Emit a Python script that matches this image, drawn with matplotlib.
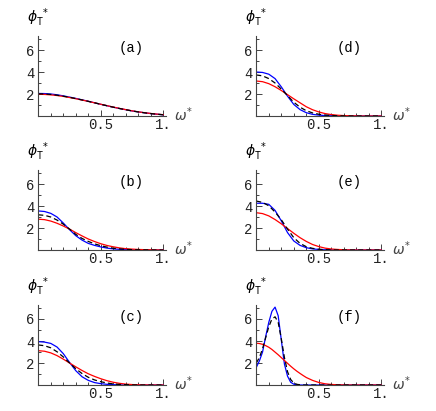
import numpy as np
import matplotlib
matplotlib.use("Agg")
import matplotlib.pyplot as plt
from matplotlib.ticker import MultipleLocator, FixedLocator

plt.rcParams['font.family'] = ['Liberation Mono', 'DejaVu Sans Mono']

# omega* grid used for panels (a)-(e)
x = [0.0, 0.05, 0.1, 0.15, 0.2, 0.25, 0.3, 0.35, 0.4, 0.45, 0.5,
     0.55, 0.6, 0.65, 0.7, 0.75, 0.8, 0.85, 0.9, 0.95, 1.0]

a_blue = [2.05, 2.04, 2.0, 1.93, 1.83, 1.72, 1.6, 1.47, 1.34, 1.2, 1.06,
          0.93, 0.8, 0.68, 0.57, 0.46, 0.37, 0.29, 0.22, 0.16, 0.11]
a_red = [1.97, 1.96, 1.92, 1.86, 1.78, 1.68, 1.57, 1.45, 1.33, 1.2, 1.07,
         0.94, 0.81, 0.69, 0.58, 0.47, 0.38, 0.3, 0.23, 0.17, 0.12]
a_black = [2.01, 2.0, 1.96, 1.89, 1.8, 1.7, 1.58, 1.46, 1.33, 1.2, 1.06,
           0.93, 0.8, 0.68, 0.57, 0.46, 0.37, 0.29, 0.22, 0.16, 0.11]

b_blue = [3.55, 3.5, 3.33, 3.0, 2.45, 1.85, 1.3, 0.9, 0.6, 0.42, 0.28,
          0.17, 0.1, 0.06, 0.03, 0.02, 0.01, 0.0, 0.0, 0.0, 0.0]
b_red = [2.8, 2.76, 2.63, 2.43, 2.18, 1.9, 1.58, 1.28, 1.0, 0.77, 0.57,
         0.41, 0.29, 0.19, 0.12, 0.08, 0.05, 0.03, 0.02, 0.01, 0.0]
b_black = [3.2, 3.15, 3.0, 2.72, 2.35, 1.9, 1.42, 1.05, 0.78, 0.56, 0.39,
           0.26, 0.16, 0.1, 0.06, 0.03, 0.02, 0.01, 0.0, 0.0, 0.0]

c_blue = [3.94, 3.9, 3.78, 3.45, 2.85, 2.05, 1.3, 0.75, 0.42, 0.22, 0.12,
          0.06, 0.03, 0.01, 0.0, 0.0, 0.0, 0.0, 0.0, 0.0, 0.0]
c_red = [3.12, 3.07, 2.92, 2.67, 2.35, 2.0, 1.65, 1.32, 1.02, 0.78, 0.57,
         0.39, 0.25, 0.15, 0.08, 0.04, 0.02, 0.01, 0.0, 0.0, 0.0]
c_black = [3.64, 3.57, 3.38, 3.02, 2.55, 2.0, 1.48, 1.04, 0.7, 0.46, 0.3,
           0.18, 0.1, 0.05, 0.03, 0.01, 0.0, 0.0, 0.0, 0.0, 0.0]

d_blue = [4.0, 3.96, 3.8, 3.4, 2.65, 1.8, 1.05, 0.58, 0.3, 0.15, 0.08,
          0.04, 0.02, 0.01, 0.0, 0.0, 0.0, 0.0, 0.0, 0.0, 0.0]
d_red = [3.18, 3.12, 2.94, 2.66, 2.32, 1.94, 1.56, 1.2, 0.84, 0.57, 0.37,
         0.22, 0.13, 0.07, 0.04, 0.02, 0.01, 0.0, 0.0, 0.0, 0.0]
d_black = [3.73, 3.65, 3.4, 3.0, 2.45, 1.85, 1.25, 0.8, 0.48, 0.28, 0.16,
           0.09, 0.05, 0.02, 0.01, 0.0, 0.0, 0.0, 0.0, 0.0, 0.0]

e_blue = [4.25, 4.25, 4.15, 3.6, 2.65, 1.58, 0.82, 0.42, 0.21, 0.1, 0.05,
          0.02, 0.01, 0.0, 0.0, 0.0, 0.0, 0.0, 0.0, 0.0, 0.0]
e_red = [3.39, 3.31, 3.1, 2.77, 2.38, 1.95, 1.52, 1.12, 0.78, 0.5, 0.31,
         0.17, 0.09, 0.05, 0.02, 0.01, 0.0, 0.0, 0.0, 0.0, 0.0]
e_black = [4.45, 4.33, 4.02, 3.45, 2.75, 1.9, 1.12, 0.6, 0.3, 0.15, 0.07,
           0.03, 0.01, 0.0, 0.0, 0.0, 0.0, 0.0, 0.0, 0.0, 0.0]

# panel (f) needs a finer grid near the peak
x_f = [0.0, 0.025, 0.05, 0.075, 0.1, 0.125, 0.15, 0.175, 0.2, 0.225, 0.25,
       0.275, 0.3, 0.325, 0.35, 0.375, 0.4, 0.45, 0.5, 0.55, 0.6, 0.65,
       0.7, 0.75, 0.8, 0.85, 0.9, 0.95, 1.0]
f_blue = [1.6, 2.2, 3.0, 4.4, 5.7, 6.7, 7.08, 6.3, 4.1, 1.9, 0.8,
          0.25, 0.07, 0.02, 0.0, 0.0, 0.0, 0.0, 0.0, 0.0, 0.0, 0.0,
          0.0, 0.0, 0.0, 0.0, 0.0, 0.0, 0.0]
f_red = [3.8, 3.77, 3.7, 3.58, 3.43, 3.23, 2.99, 2.75, 2.49, 2.23, 1.97,
         1.71, 1.47, 1.25, 1.05, 0.86, 0.68, 0.42, 0.23, 0.11, 0.05, 0.02,
         0.01, 0.0, 0.0, 0.0, 0.0, 0.0, 0.0]
f_black = [2.0, 2.5, 3.3, 4.3, 5.3, 6.0, 6.2, 5.7, 4.2, 2.5, 1.2,
           0.5, 0.18, 0.06, 0.02, 0.0, 0.0, 0.0, 0.0, 0.0, 0.0, 0.0,
           0.0, 0.0, 0.0, 0.0, 0.0, 0.0, 0.0]

panels = [
    ('(a)', x, a_blue, a_red, a_black),
    ('(b)', x, b_blue, b_red, b_black),
    ('(c)', x, c_blue, c_red, c_black),
    ('(d)', x, d_blue, d_red, d_black),
    ('(e)', x, e_blue, e_red, e_black),
    ('(f)', x_f, f_blue, f_red, f_black),
]

W, H = 436, 411
fig = plt.figure(figsize=(W / 100, H / 100), dpi=100)

x_max, y_max = 1.02, 7.3
col_left = [38.3, 256.3]
row_axis = [116, 250, 385]
ax_w, ax_h = x_max * 125, y_max * 11
axis_col = '#444444'


def draw_panel(ax, tag, xs, blue, red, black):
    ax.plot(xs, blue, color='#0000ff', lw=0.9)
    ax.plot(xs, red, color='#ff0000', lw=0.9)
    ax.plot(xs, black, color='black', lw=0.9, linestyle=(0, (4, 2.5)))
    ax.set_xlim(0, x_max)
    ax.set_ylim(0, y_max)
    for s in ('top', 'right'):
        ax.spines[s].set_visible(False)
    for s in ('left', 'bottom'):
        ax.spines[s].set_color(axis_col)
        ax.spines[s].set_linewidth(0.8)
    ax.xaxis.set_major_locator(FixedLocator([0.5, 1.0]))
    ax.xaxis.set_minor_locator(MultipleLocator(0.1))
    ax.yaxis.set_major_locator(FixedLocator([2, 4, 6]))
    ax.yaxis.set_minor_locator(MultipleLocator(1))
    ax.set_xticklabels(['0.5', '1.'])
    ax.set_yticklabels(['2', '4', '6'])
    ax.tick_params(which='both', direction='in', color=axis_col, width=0.7,
                   labelsize=10, labelcolor='#222222')
    ax.tick_params(which='major', length=4)
    ax.tick_params(which='minor', length=2.5)
    ax.tick_params(axis='x', pad=1.5)
    ax.tick_params(axis='y', pad=2.5)
    ax.text(0.0, 8.9, r'$\phi_{\mathtt{T}}^{\ *}$', ha='center', va='center',
            fontsize=10, clip_on=False)
    ax.text(1.16, 0.15, r'$\omega^{*}$', ha='center', va='center',
            fontsize=10, color='#444444', clip_on=False)
    ax.text(0.74, 6.2, tag, ha='center', va='center', fontsize=10)


for i, (tag, xs, blue, red, black) in enumerate(panels):
    col, row = i // 3, i % 3
    left = col_left[col] / W
    bottom = (H - row_axis[row]) / H
    ax = fig.add_axes([left, bottom, ax_w / W, ax_h / H])
    ax.patch.set_alpha(0)
    draw_panel(ax, tag, xs, blue, red, black)

fig.savefig('out.png', dpi=100)
